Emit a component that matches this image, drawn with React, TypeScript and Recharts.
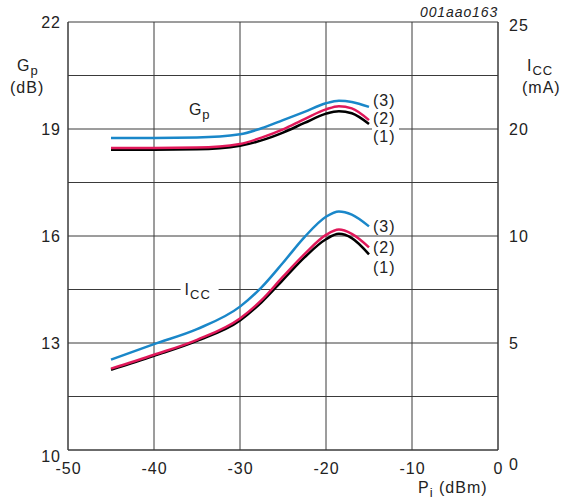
import React from 'react';
import { ComposedChart, Line, XAxis, YAxis, CartesianGrid, ReferenceDot } from 'recharts';

const pin = [-45, -40, -35, -30, -27.5, -25, -22.5, -20, -18.5, -17, -15];

// power gain Gp (dB)
const gp1 = [18.42, 18.42, 18.43, 18.53, 18.68, 18.9, 19.17, 19.43, 19.5, 19.44, 19.14];
const gp2 = [18.47, 18.47, 18.48, 18.58, 18.76, 18.99, 19.28, 19.55, 19.64, 19.58, 19.25];
const gp3 = [18.75, 18.75, 18.76, 18.85, 19.02, 19.25, 19.48, 19.72, 19.79, 19.76, 19.62];

// supply current Icc (mA)
const icc1 = [3.75, 4.4, 5.1, 6.05, 6.9, 7.95, 9.0, 9.85, 10.1, 9.9, 9.14];
const icc2 = [3.8, 4.45, 5.15, 6.15, 7.0, 8.1, 9.15, 10.05, 10.3, 10.1, 9.47];
const icc3 = [4.22, 4.95, 5.65, 6.7, 7.6, 8.75, 9.95, 10.9, 11.15, 11.0, 10.45];

const xTicks = [-50, -40, -30, -20, -10, 0];
const gpTicks = [10, 11.5, 13, 14.5, 16, 17.5, 19, 20.5, 22];
const gpLabels = ['10', '', '13', '', '16', '', '19', '', '22'];
const iccTicks = [0, 5, 10, 15, 20];
const iccLabels = ['0', '5', '10', '20', '25'];

const data = pin.map((p, i) => ({
  pin: p,
  gp1: gp1[i], gp2: gp2[i], gp3: gp3[i],
  icc1: icc1[i], icc2: icc2[i], icc3: icc3[i],
}));

const FONT = '"Liberation Sans", Arial, sans-serif';
const BLUE = '#1a87c9';
const RED = '#e0185a';
const BLACK = '#000000';
const GRID = '#3a3a3a';
const TXT = '#222';
const FS = 16;
const LS = 1;

const endLabel = (text: string, dy: number) => (props: any) => {
  if (props.index !== data.length - 1) return null;
  const x = props.x + 3;
  const y = props.y + dy;
  return (
    <g>
      <rect x={x} y={y - 8} width={27} height={16} fill="#fff" />
      <text x={x + 1} y={y} dy="0.35em" fontSize={FS} letterSpacing={LS} fontFamily={FONT} fill={TXT}>{text}</text>
    </g>
  );
};

const LeftTick = (props: any) => {
  const { x, y, payload, index } = props;
  const label = gpLabels[index] ?? '';
  const shift = payload.value === 10 ? 6 : 0;
  return (
    <text x={x + LS} y={y + shift} dy="0.35em" textAnchor="end" fontSize={FS} letterSpacing={LS} fontFamily={FONT} fill={TXT}>{label}</text>
  );
};

const RightTick = (props: any) => {
  const { x, y, payload, index } = props;
  const label = iccLabels[index] ?? '';
  const shift = payload.value === 0 ? 14 : payload.value === 20 ? 3 : 0;
  return (
    <text x={x} y={y + shift} dy="0.35em" textAnchor="start" fontSize={FS} letterSpacing={LS} fontFamily={FONT} fill={TXT}>{label}</text>
  );
};

const BottomTick = (props: any) => {
  const { x, y, payload } = props;
  return (
    <text x={x + LS / 2} y={y} dy="0.71em" textAnchor="middle" fontSize={FS} letterSpacing={LS} fontFamily={FONT} fill={TXT}>{payload.value}</text>
  );
};

const textStyle: React.CSSProperties = {
  position: 'absolute',
  fontFamily: FONT,
  fontSize: FS,
  letterSpacing: LS,
  color: TXT,
  lineHeight: '20px',
  whiteSpace: 'nowrap',
};

export default function App() {
  return (
    <div style={{ position: 'relative', width: 569, height: 503, background: '#fff' }}>
      <style>{`body{margin:0}`}</style>
      <ComposedChart
        width={569}
        height={503}
        data={data}
        margin={{ top: 22, right: 11, left: 8, bottom: 23 }}
      >
        <CartesianGrid stroke={GRID} strokeWidth={1} yAxisId="gp" />
        <XAxis
          dataKey="pin"
          type="number"
          domain={[-50, 0]}
          ticks={xTicks}
          axisLine={{ stroke: GRID }}
          tickLine={false}
          tickMargin={7}
          height={30}
          tick={<BottomTick />}
        />
        <YAxis
          yAxisId="gp"
          orientation="left"
          type="number"
          domain={[10, 22]}
          ticks={gpTicks}
          width={60}
          axisLine={{ stroke: GRID }}
          tickLine={false}
          tickMargin={2}
          tick={<LeftTick />}
        />
        <YAxis
          yAxisId="icc"
          orientation="right"
          type="number"
          domain={[0, 20]}
          ticks={iccTicks}
          width={60}
          axisLine={{ stroke: GRID }}
          tickLine={false}
          tickMargin={5}
          tick={<RightTick />}
        />

        <ReferenceDot
          yAxisId="gp"
          x={-34}
          y={14.5}
          r={0}
          shape={(p: any) => (
            <g>
              <rect x={p.cx - 25} y={p.cy - 12} width={38} height={24} fill="#fff" />
              <text x={p.cx - 21} y={p.cy} dy="0.35em" fontSize={FS} letterSpacing={LS} fontFamily={FONT} fill={TXT}>
                I<tspan fontSize={13} dy={4}>CC</tspan>
              </text>
            </g>
          )}
        />
        <ReferenceDot
          yAxisId="gp"
          x={-33.5}
          y={19.55}
          r={0}
          shape={(p: any) => (
            <text x={p.cx - 21} y={p.cy} dy="0.35em" fontSize={FS} letterSpacing={LS} fontFamily={FONT} fill={TXT}>
              G<tspan fontSize={13} dy={4}>p</tspan>
            </text>
          )}
        />

        <Line yAxisId="gp" type="monotone" dataKey="gp1" stroke={BLACK} strokeWidth={2.5} dot={false} isAnimationActive={false} label={endLabel('(1)', 12)} />
        <Line yAxisId="gp" type="monotone" dataKey="gp2" stroke={RED} strokeWidth={2.5} dot={false} isAnimationActive={false} label={endLabel('(2)', -2)} />
        <Line yAxisId="gp" type="monotone" dataKey="gp3" stroke={BLUE} strokeWidth={2.5} dot={false} isAnimationActive={false} label={endLabel('(3)', -6)} />

        <Line yAxisId="icc" type="monotone" dataKey="icc1" stroke={BLACK} strokeWidth={2.5} dot={false} isAnimationActive={false} label={endLabel('(1)', 13)} />
        <Line yAxisId="icc" type="monotone" dataKey="icc2" stroke={RED} strokeWidth={2.5} dot={false} isAnimationActive={false} label={endLabel('(2)', 0)} />
        <Line yAxisId="icc" type="monotone" dataKey="icc3" stroke={BLUE} strokeWidth={2.5} dot={false} isAnimationActive={false} label={endLabel('(3)', 0)} />
      </ComposedChart>

      <div style={{ ...textStyle, left: 17, top: 56 }}>
        G<sub style={{ fontSize: 13 }}>p</sub>
      </div>
      <div style={{ ...textStyle, left: 10, top: 78 }}>(dB)</div>
      <div style={{ ...textStyle, left: 527, top: 56 }}>
        I<sub style={{ fontSize: 13 }}>CC</sub>
      </div>
      <div style={{ ...textStyle, left: 522, top: 78 }}>(mA)</div>
      <div style={{ ...textStyle, left: 418, top: 478 }}>
        P<sub style={{ fontSize: 13 }}>i</sub> (dBm)
      </div>
      <div style={{ ...textStyle, left: 420, top: 2, fontSize: 14, letterSpacing: 0.9, fontStyle: 'italic' }}>001aao163</div>
    </div>
  );
}
